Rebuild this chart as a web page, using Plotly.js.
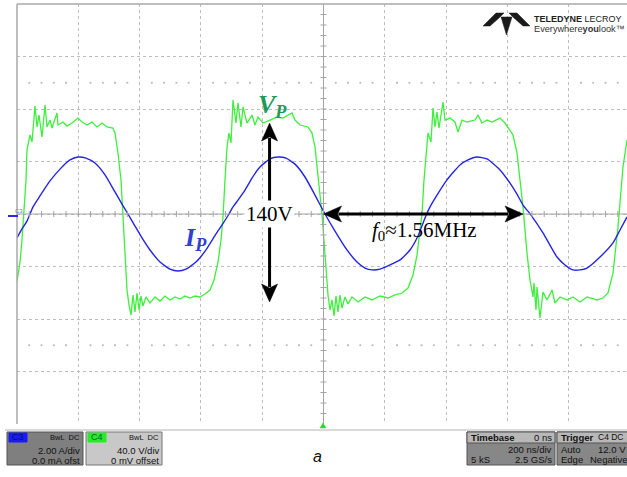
<!DOCTYPE html>
<html><head><meta charset="utf-8">
<script src="https://cdn.plot.ly/plotly-3.0.1.min.js"></script>
<style>html,body{margin:0;padding:0;background:#fff;}#chart{width:627px;height:477px;}</style>
</head><body><div id="chart"></div>
<script>
// ---- Data ----
// C4: primary voltage V_P (V) vs time (ns)
const timeV = [-1000.0,-990.2,-983.7,-977.1,-970.6,-967.4,-957.6,-951.0,-941.3,-934.7,-928.2,-918.4,-908.6,-902.1,-892.3,-885.8,-869.5,-866.2,-849.9,-836.9,-820.5,-801.0,-787.9,-771.6,-755.3,-739.0,-722.7,-706.4,-686.8,-680.3,-670.5,-660.7,-654.2,-647.6,-641.1,-634.6,-628.1,-621.5,-615.0,-608.5,-601.9,-595.4,-588.9,-579.1,-566.1,-549.7,-533.4,-517.1,-500.8,-484.5,-468.2,-451.9,-435.6,-419.2,-402.9,-386.6,-370.3,-357.3,-344.2,-334.4,-327.9,-321.4,-314.8,-308.3,-301.8,-295.3,-285.5,-279.0,-269.2,-262.6,-249.6,-233.3,-223.5,-213.7,-197.4,-174.5,-151.7,-132.1,-102.8,-93.0,-76.7,-50.6,-37.5,-27.7,-17.9,-11.4,-4.9,1.6,8.2,14.7,21.2,27.7,34.3,40.8,47.3,53.8,60.4,70.1,79.9,93.0,112.6,135.4,158.2,184.3,210.4,233.3,256.1,275.7,292.0,305.1,314.8,321.4,327.9,337.7,340.9,350.7,357.3,363.8,370.3,376.8,389.9,396.4,412.7,429.0,438.8,451.9,468.2,494.3,504.1,517.1,533.4,549.7,575.8,592.2,601.9,618.3,631.3,641.1,650.9,663.9,673.7,683.5,686.8,693.3,696.6,706.4,716.1,729.2,745.5,755.3,771.6,794.4,814.0,836.9,859.7,892.3,911.9,928.2,944.5,960.8,977.1,990.2];
const voltageVP = [-51.8,-36.6,-19.8,0,25.9,48.8,60.2,54.9,82.3,66.3,75.4,58.7,83.0,66.3,71.6,65.5,77.0,67.8,70.1,67.0,69.3,73.1,70.1,67.8,70.1,66.3,69.3,66.3,65.5,61.7,46.5,25.9,0.8,-27.4,-57.9,-69.3,-77.0,-61.7,-74.7,-60.2,-73.1,-62.5,-70.1,-63.2,-67.8,-63.2,-66.3,-62.5,-65.5,-63.2,-64.8,-62.5,-64.0,-62.5,-63.2,-61.0,-57.9,-50.3,-36.6,-19.8,-2.3,25.9,51.0,61.7,54.1,86.9,69.3,84.6,66.3,81.5,69.3,75.4,67.8,73.9,69.3,71.6,73.9,73.1,77.0,71.6,67.8,66.3,61.7,51.0,31.2,14.5,0,-19.8,-42.7,-61.7,-73.1,-65.5,-77.7,-62.5,-74.7,-61.7,-71.6,-63.2,-68.6,-63.2,-67.0,-63.2,-65.5,-62.5,-64.0,-61.7,-60.2,-56.4,-46.5,-31.2,-12.2,0,25.9,54.1,61.7,54.9,80.8,66.3,77.7,65.5,85.3,71.6,73.1,70.1,62.5,71.6,70.1,71.6,75.4,69.3,71.6,70.1,73.1,69.3,65.5,60.2,46.5,25.9,5.3,-29.7,-50.3,-63.2,-52.6,-73.1,-55.6,-79.2,-59.4,-65.5,-57.9,-67.8,-63.2,-65.5,-63.2,-67.0,-63.2,-65.5,-64.0,-60.2,-45.0,-9.9,35.8,56.4];
// C3: primary current I_P (A) vs time (ns)
const timeI = [-1000.0,-983.7,-967.4,-957.6,-947.8,-925.0,-892.3,-859.7,-827.1,-801.0,-774.9,-745.5,-712.9,-680.3,-657.4,-637.8,-615.0,-592.2,-566.1,-533.4,-500.8,-474.7,-448.6,-416.0,-383.4,-350.7,-331.2,-308.3,-295.3,-279.0,-256.1,-233.3,-207.2,-174.5,-148.4,-122.3,-93.0,-60.4,-27.7,4.9,37.5,76.7,109.3,135.4,158.2,184.3,217.0,249.6,282.2,308.3,331.2,347.5,370.3,402.9,445.3,471.4,500.8,533.4,575.8,608.5,631.3,650.9,677.0,716.1,761.8,787.9,814.0,836.9,859.7,902.1,944.5,967.4,990.2];
const currentIP = [-0.91,-0.57,-0.27,0,0.27,0.69,1.26,1.71,2.06,2.17,2.13,1.94,1.49,0.84,0.38,0,-0.46,-0.91,-1.37,-1.83,-2.10,-2.17,-2.10,-1.83,-1.37,-0.76,-0.42,0,0.27,0.53,0.91,1.37,1.79,2.10,2.17,2.13,1.90,1.41,0.72,0,-0.65,-1.37,-1.83,-2.06,-2.13,-2.10,-1.94,-1.75,-1.37,-0.84,-0.15,0.27,0.72,1.30,1.87,2.06,2.17,2.10,1.68,1.18,0.76,0.34,-0.04,-0.72,-1.64,-1.94,-2.13,-2.13,-2.06,-1.64,-1.10,-0.61,-0.11];

// Scope settings
const timeRange = [-1000, 990.2];   // 200 ns/div, screen cut at right
const voltRange = [-160, 160];      // 40 V/div, 8 div
const ampRange = [-8, 8];           // 2 A/div
const nsPerDiv = 200, vPerDiv = 40;

// Annotation values
const ppArrow = {t: -176, top: 69.3, bottom: -67.0, label: '140V'};
const freqArrow = {v: 0, t0: 0, t1: 651, label: '<i>f</i><sub>0</sub>≈1.56MHz'};

// ---- geometry helpers (plot area 17..627 x 4..424 px) ----
const L = 17, T = 4, W = 610, H = 420;
const nsPerPx = (timeRange[1]-timeRange[0])/W;
const vPerPx = (voltRange[1]-voltRange[0])/H;
const PX = p => (p - L)/W;
const PY = p => (T + H - p)/H;

const shapes = [];
const annotations = [];

// plot borders
shapes.push({type:'line', xref:'paper', yref:'paper', x0:0, x1:0, y0:0, y1:1, line:{color:'#a9a9a9', width:1.5}});
shapes.push({type:'line', xref:'paper', yref:'paper', x0:0, x1:1, y0:1, y1:1, line:{color:'#a9a9a9', width:1.5}});
// center cross
shapes.push({type:'line', xref:'x', yref:'y', x0:0, x1:0, y0:voltRange[0], y1:voltRange[1], line:{color:'#a4a4a4', width:1}});
shapes.push({type:'line', xref:'x', yref:'y', x0:timeRange[0], x1:timeRange[1], y0:0, y1:0, line:{color:'#a4a4a4', width:1}});
for (let t = -1000 + nsPerDiv/5; t < 1000; t += nsPerDiv/5) {
  shapes.push({type:'line', xref:'x', yref:'y', x0:t, x1:t, y0:-3*vPerPx, y1:3*vPerPx, line:{color:'#a4a4a4', width:1}});
}
for (let v = -160 + vPerDiv/5; v < 160; v += vPerDiv/5) {
  shapes.push({type:'line', xref:'x', yref:'y', x0:-3*nsPerPx, x1:3*nsPerPx, y0:v, y1:v, line:{color:'#a4a4a4', width:1}});
}
// dotted rows at +/-2.5 div
const dotT = [], dotV = [];
for (let t = -1000; t < 1000; t += nsPerDiv/5) {
  if (Math.abs(t % nsPerDiv) < 1e-6) continue;
  dotT.push(t, t); dotV.push(2.5*vPerDiv, -2.5*vPerDiv);
}

// arrow heads
function head(tt, vv, dir) {
  const len = 18, hw = 8, notch = 4;
  let pts = [[0,0],[-hw,-len],[0,-len+notch],[hw,-len]]; // pointing up (px, y up)
  const rot = {up:p=>p, down:p=>[p[0],-p[1]], left:p=>[-p[1],p[0]], right:p=>[p[1],p[0]]}[dir];
  pts = pts.map(rot);
  const d = pts.map((p,i)=>(i?'L':'M')+(tt+p[0]*nsPerPx).toFixed(2)+','+(vv+p[1]*vPerPx).toFixed(2)).join(' ')+' Z';
  return {type:'path', xref:'x', yref:'y', path:d, fillcolor:'#000', line:{color:'#000', width:0.5}};
}
// vertical 140 V arrow
shapes.push({type:'line', xref:'x', yref:'y', x0:ppArrow.t, x1:ppArrow.t, y0:ppArrow.top-15*vPerPx, y1:ppArrow.bottom+15*vPerPx, line:{color:'#000', width:3}});
shapes.push(head(ppArrow.t, ppArrow.top, 'up'));
shapes.push(head(ppArrow.t, ppArrow.bottom, 'down'));
// horizontal period arrow
shapes.push({type:'line', xref:'x', yref:'y', x0:freqArrow.t0+15*nsPerPx, x1:freqArrow.t1-15*nsPerPx, y0:freqArrow.v, y1:freqArrow.v, line:{color:'#000', width:3}});
shapes.push(head(freqArrow.t0, freqArrow.v, 'left'));
shapes.push(head(freqArrow.t1, freqArrow.v, 'right'));

annotations.push({xref:'x', yref:'y', x:ppArrow.t, y:0, text:ppArrow.label, showarrow:false, bgcolor:'#fff', borderpad:1,
  font:{family:'Liberation Serif, Times New Roman, serif', size:21, color:'#000'}});
annotations.push({xref:'x', yref:'y', x:328, y:(214-231)*vPerPx, text:freqArrow.label, showarrow:false,
  font:{family:'Liberation Serif, Times New Roman, serif', size:21, color:'#000'}});
annotations.push({xref:'paper', yref:'paper', x:PX(272), y:PY(88), text:'<b><i>V<sub>P</sub></i></b>', showarrow:false,
  font:{family:'Liberation Serif, Times New Roman, serif', size:26, color:'#1c9a58'}});
annotations.push({xref:'paper', yref:'paper', x:PX(182), y:PY(239), text:'<b><i>I<sub>P</sub></i></b>', showarrow:false,
  font:{family:'Liberation Serif, Times New Roman, serif', size:26, color:'#2f3fd8'}});

// channel marker on the left
shapes.push({type:'line', xref:'paper', yref:'paper', x0:PX(8), x1:PX(18), y0:PY(216), y1:PY(216), line:{color:'#2a2ae6', width:2}});
annotations.push({xref:'paper', yref:'paper', x:PX(12.5), y:PY(210.5), text:'C3', showarrow:false, font:{family:'Liberation Sans, Arial', size:6, color:'#5b7fd8'}});
// trigger marker at bottom
shapes.push({type:'path', xref:'paper', yref:'paper', path:`M${PX(320)},${PY(428)} L${PX(326)},${PY(428)} L${PX(323)},${PY(423)} Z`, fillcolor:'#22dd22', line:{color:'#22dd22', width:0.5}});

// bottom strip line
shapes.push({type:'line', xref:'paper', yref:'paper', x0:PX(5), x1:PX(640), y0:PY(430), y1:PY(430), line:{color:'#b4b4b4', width:1}});

// info boxes
const sans = 'Liberation Sans, Arial, sans-serif';
function rect(x0,y0,x1,y1,fill,line){ shapes.push({type:'rect', xref:'paper', yref:'paper', x0:PX(x0), x1:PX(x1), y0:PY(y1), y1:PY(y0), fillcolor:fill, line:{color:line||fill, width:1}}); }
function txt(x,y,s,anchor,size,bold,color){ annotations.push({xref:'paper', yref:'paper', x:PX(x), y:PY(y), xanchor:anchor, yanchor:'middle', text:bold?'<b>'+s+'</b>':s, showarrow:false, font:{family:sans, size:size, color:color||'#111'}}); }

rect(7,432,83,465,'#7f7f7f','#555');
rect(9,433,27,442,'#1a1aff','#1a1aff');
txt(18,437.5,'C3','center',9,false,'#0a0a6a');
txt(82,437.5,'BwL  DC','right',7.5);
txt(82,450.5,'2.00 A/div','right',9.5);
txt(82,460.5,'0.0 mA ofst','right',9.5);

rect(86,432,162,465,'#c8c8c8','#777');
rect(88,433,106,442,'#22ee22','#22ee22');
txt(97,437.5,'C4','center',9,false,'#063');
txt(161,437.5,'BwL  DC','right',7.5);
txt(161,450.5,'40.0 V/div','right',9.5);
txt(161,460.5,'0 mV offset','right',9.5);

rect(467,432,555,465,'#878787','#555');
rect(467,432,555,443,'#b8b8b8','#555');
txt(469,437.5,'Timebase','left',9.5,true);
txt(554,437.5,'0 ns','right',9.5);
txt(554,449.5,'200 ns/div','right',9.5);
txt(469,459.5,'5 kS','left',9.5);
txt(554,459.5,'2.5 GS/s','right',9.5);

rect(557,432,640,465,'#878787','#555');
rect(557,432,640,443,'#b8b8b8','#555');
txt(559,437.5,'Trigger','left',9.5,true);
txt(626,437.5,'C4 DC','right',8.5);
txt(559,449.5,'Auto','left',9.5);
txt(628,449.5,'12.0 V','right',9.5);
txt(559,459.5,'Edge','left',9.5);
txt(630,459.5,'Negative','right',9.5);

annotations.push({xref:'paper', yref:'paper', x:PX(317), y:PY(467), text:'<i>a</i>', showarrow:false, font:{family:sans, size:16, color:'#111'}});

// logo
const lw = [[483,26],[496,13],[504,13],[499,18],[490,26]];
const rw = [[530,26],[517,13],[509,13],[514,18],[523,26]];
const st = [[501,17],[512,17],[506.5,35]];
[lw, rw, st].forEach(poly => {
  shapes.push({type:'path', xref:'paper', yref:'paper', path: poly.map((p,i)=>(i?'L':'M')+PX(p[0])+','+PY(p[1])).join(' ')+' Z', fillcolor:'#1a1a1a', line:{color:'#1a1a1a', width:0.5}});
});
txt(532,19,'<b>TELEDYNE</b> LECROY','left',9,false,'#222');
txt(532,28.5,'Everywhere<b>you</b>look™','left',9.2,false,'#333');

const traces = [
  {x: dotT, y: dotV, type:'scatter', mode:'markers', marker:{size:1.8, color:'#b8b8b8', symbol:'square'}, hoverinfo:'skip', showlegend:false},
  {x: timeV, y: voltageVP, type:'scatter', mode:'lines', name:'V_P', line:{color:'#3cf03c', width:1.3}, showlegend:false},
  {x: timeI, y: currentIP, type:'scatter', mode:'lines', name:'I_P', yaxis:'y2', line:{color:'#2424e6', width:1.4, shape:'spline', smoothing:0.5}, showlegend:false}
];

const layout = {
  width: 627, height: 477,
  margin: {l: L, r: 0, t: T, b: 477 - T - H, pad: 0},
  paper_bgcolor: '#fff', plot_bgcolor: '#fff',
  xaxis: {range: timeRange, dtick: nsPerDiv, tick0: 0, showgrid: true, gridcolor: '#bdbdbd', griddash: 'dot', gridwidth: 1,
          zeroline: false, showticklabels: false, ticks: '', showline: false, fixedrange: true},
  yaxis: {range: voltRange, dtick: vPerDiv, tick0: 0, showgrid: true, gridcolor: '#bdbdbd', griddash: 'dot', gridwidth: 1,
          zeroline: false, showticklabels: false, ticks: '', showline: false, fixedrange: true},
  yaxis2: {range: ampRange, overlaying: 'y', visible: false, showgrid: false, zeroline: false},
  shapes: shapes,
  annotations: annotations,
  showlegend: false
};
Plotly.newPlot('chart', traces, layout, {displayModeBar: false, staticPlot: true});
</script></body></html>
